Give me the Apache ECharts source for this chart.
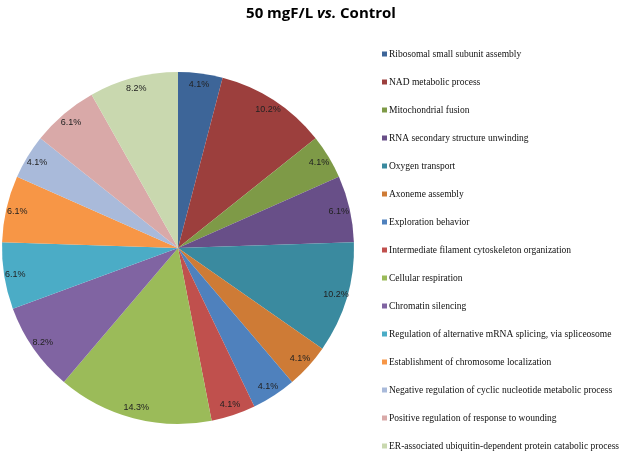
<!DOCTYPE html>
<html><head><meta charset="utf-8">
<script src="https://cdn.jsdelivr.net/npm/echarts@6/dist/echarts.min.js"></script>
<style>html,body{margin:0;padding:0;background:#fff}#c{width:625px;height:455px}</style>
</head><body><div id="c"></div>
<script>
const categories = [
  "Ribosomal small subunit assembly",
  "NAD metabolic process",
  "Mitochondrial fusion",
  "RNA secondary structure unwinding",
  "Oxygen transport",
  "Axoneme assembly",
  "Exploration behavior",
  "Intermediate filament cytoskeleton organization",
  "Cellular respiration",
  "Chromatin silencing",
  "Regulation of alternative mRNA splicing, via spliceosome",
  "Establishment of chromosome localization",
  "Negative regulation of cyclic nucleotide metabolic process",
  "Positive regulation of response to wounding",
  "ER-associated ubiquitin-dependent protein catabolic process"
];
const values = [2, 5, 2, 3, 5, 2, 2, 2, 7, 4, 3, 3, 2, 3, 4];
const colors = ["#3D6598","#9C3F3D","#7E9A47","#684F88","#3A8A9F","#CE7B36","#4F81BD","#C0504D","#9BBB59","#8064A2","#4BACC6","#F79646","#A9BADA","#D9A9A8","#C9D8AF"];

const total = values.reduce((a, b) => a + b, 0);
const data = categories.map((n, i) => ({ name: n, value: values[i], itemStyle: { color: colors[i] } }));
const chart = echarts.init(document.getElementById('c'));
const cx = 178, cy = 248, R = 176;
chart.setOption({
  animation: false,
  title: {
    text: '{a|50 mgF/L }{b|vs.}{a| Control}',
    left: 316, top: 1, textAlign: 'center',
    textStyle: { rich: {
      a: { fontFamily: 'Open Sans', fontWeight: 'bold', fontSize: 15, color: '#000' },
      b: { fontFamily: 'Open Sans', fontWeight: 'bold', fontStyle: 'italic', fontSize: 15, color: '#000' }
    } }
  },
  legend: {
    orient: 'vertical', left: 382, top: 48, padding: 0,
    icon: 'rect', itemWidth: 5, itemHeight: 5, itemGap: 16,
    textStyle: { fontFamily: 'Liberation Serif', fontSize: 9.5, color: '#111', lineHeight: 12, padding: [0,0,0,-3] },
    data: categories
  },
  series: [
    {
      type: 'pie', center: [cx, cy], radius: [0, R], startAngle: 90, clockwise: true,
      label: { show: false }, labelLine: { show: false }, data: data,
      emphasis: { disabled: true }
    },
    {
      type: 'pie', center: [cx, cy], radius: [R * 0.84, R], startAngle: 90, clockwise: true,
      silent: true, legendHoverLink: false,
      itemStyle: { color: 'rgba(0,0,0,0)' },
      label: { show: true, position: 'inside', fontFamily: 'Liberation Sans', fontSize: 9, color: '#222',
        formatter: p => (p.value / total * 100).toFixed(1) + '%' },
      labelLine: { show: false },
      data: categories.map((n, i) => ({ name: n + ' ', value: values[i], itemStyle: { color: 'rgba(0,0,0,0)' } })),
      emphasis: { disabled: true }
    }
  ]
});
</script></body></html>
